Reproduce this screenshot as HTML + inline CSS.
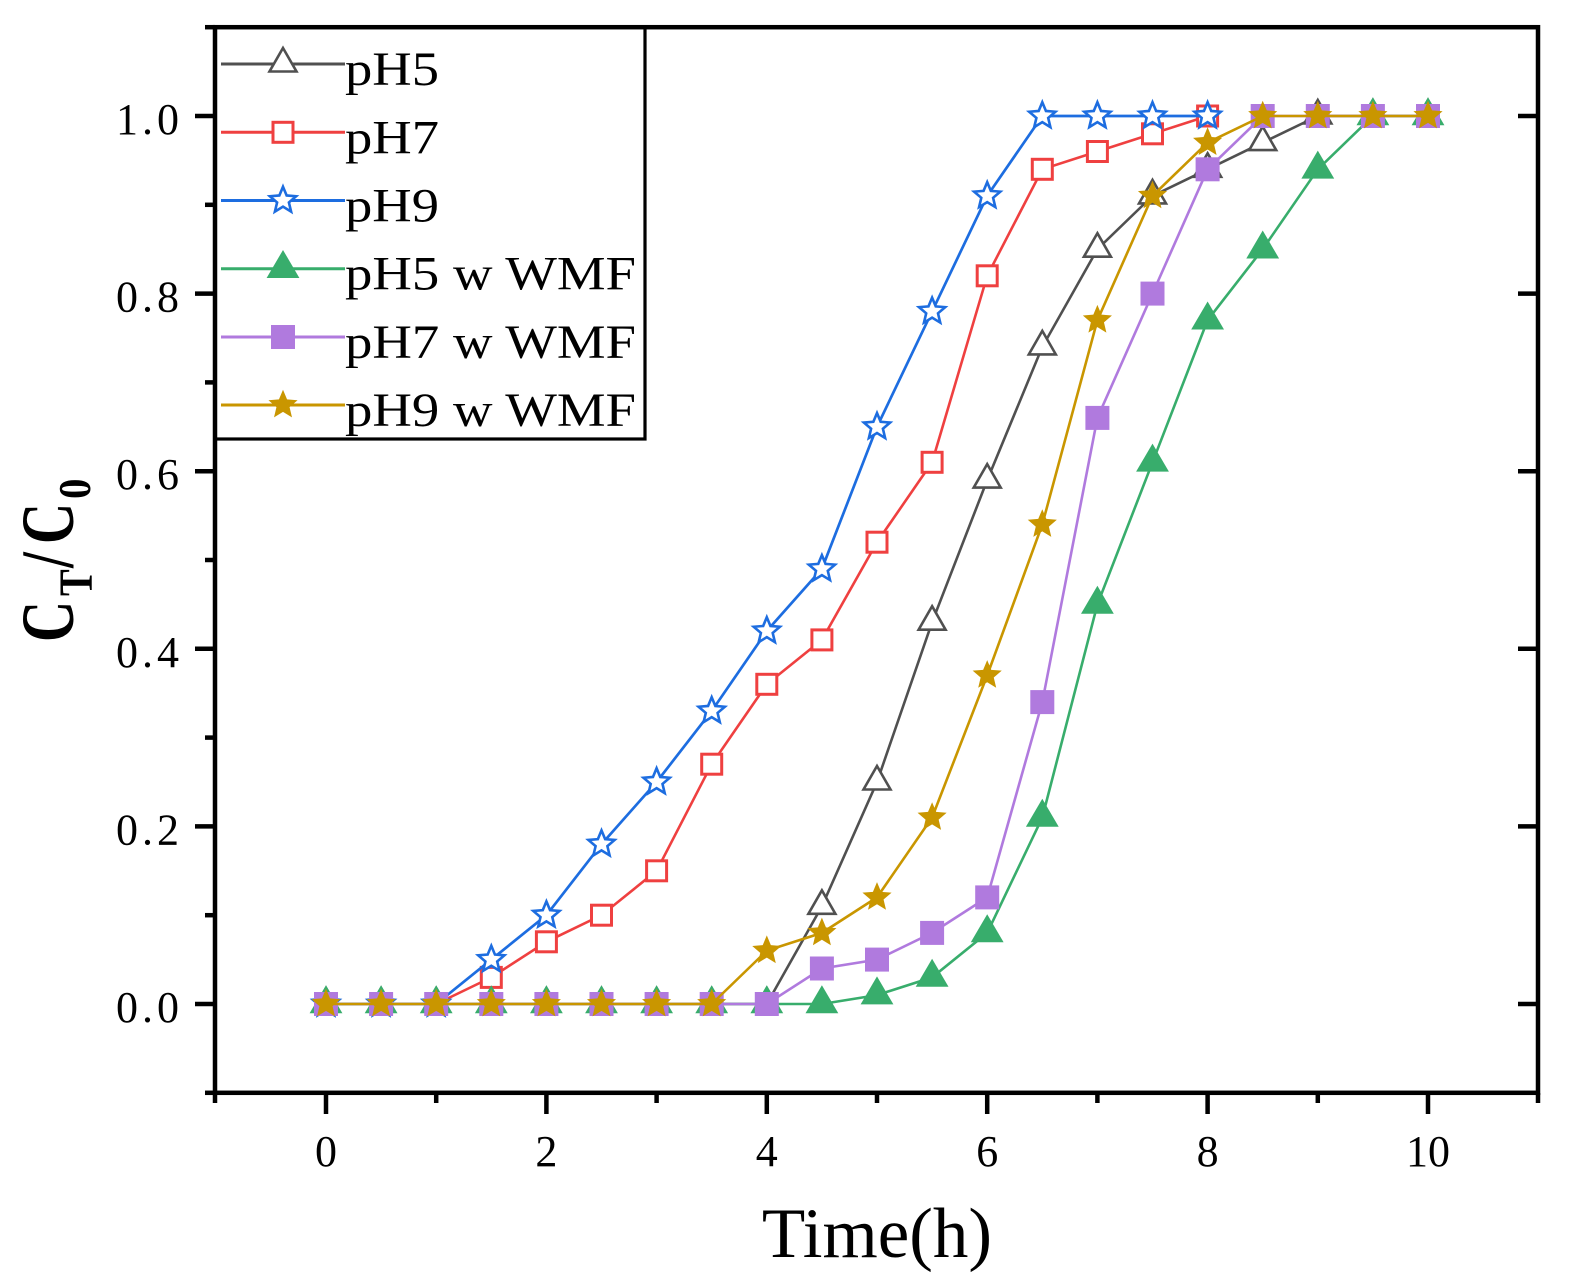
<!DOCTYPE html>
<html><head><meta charset="utf-8"><style>
html,body{margin:0;padding:0;background:#fff;}
svg{display:block;}
text{font-family:"Liberation Serif","Times New Roman",serif;fill:#000;}
</style></head><body>
<svg width="1577" height="1288" viewBox="0 0 1577 1288" xmlns="http://www.w3.org/2000/svg">
<defs>
<path id="trio" d="M0,-16 L13.5,7.5 L-13.5,7.5 Z" fill="#fff" stroke="#505050" stroke-width="2.6"/>
<rect id="sqo" x="-10" y="-10" width="20" height="20" fill="#fff" stroke="#ef4040" stroke-width="3"/>
<polygon id="staro" points="0,-13.8 3.64,-5.02 13.12,-4.26 5.9,1.92 8.11,11.16 0,6.2 -8.11,11.16 -5.9,1.92 -13.12,-4.26 -3.64,-5.02" fill="#fff" stroke="#1d6de0" stroke-width="2.6"/>
<path id="trif" d="M0,-18.7 L16.4,9.3 L-16.4,9.3 Z" fill="#38ad6c"/>
<rect id="sqf" x="-12" y="-12" width="24" height="24" fill="#b07ade"/>
<polygon id="starf" points="0,-15.3 4.06,-5.58 14.55,-4.73 6.56,2.13 8.99,12.38 0,6.9 -8.99,12.38 -6.56,2.13 -14.55,-4.73 -4.06,-5.58" fill="#c99600"/>
</defs>
<rect width="1577" height="1288" fill="#fff"/>

<!-- pH5 -->
<g>
<polyline fill="none" stroke="#505050" stroke-width="2.6" points="326,1004 381.1,1004 436.2,1004 491.3,1004 546.4,1004 601.5,1004 656.6,1004 711.7,1004 766.8,1004 821.9,906.3 877,782 932.1,622.2 987.2,480.1 1042.3,346.9 1097.4,249.2 1152.5,195.9 1207.6,169.3 1262.7,142.6 1317.8,116 1372.9,116 1428,116"/>
<use href="#trio" x="326" y="1004"/><use href="#trio" x="381.1" y="1004"/><use href="#trio" x="436.2" y="1004"/><use href="#trio" x="491.3" y="1004"/><use href="#trio" x="546.4" y="1004"/><use href="#trio" x="601.5" y="1004"/><use href="#trio" x="656.6" y="1004"/><use href="#trio" x="711.7" y="1004"/><use href="#trio" x="766.8" y="1004"/><use href="#trio" x="821.9" y="906.3"/><use href="#trio" x="877" y="782"/><use href="#trio" x="932.1" y="622.2"/><use href="#trio" x="987.2" y="480.1"/><use href="#trio" x="1042.3" y="346.9"/><use href="#trio" x="1097.4" y="249.2"/><use href="#trio" x="1152.5" y="195.9"/><use href="#trio" x="1207.6" y="169.3"/><use href="#trio" x="1262.7" y="142.6"/><use href="#trio" x="1317.8" y="116"/><use href="#trio" x="1372.9" y="116"/><use href="#trio" x="1428" y="116"/>
</g>
<!-- pH7 -->
<g>
<polyline fill="none" stroke="#ef4040" stroke-width="2.6" points="326,1004 381.1,1004 436.2,1004 491.3,977.4 546.4,941.8 601.5,915.2 656.6,870.8 711.7,764.2 766.8,684.3 821.9,639.9 877,542.2 932.1,462.3 987.2,275.8 1042.3,169.3 1097.4,151.5 1152.5,133.8 1207.6,116"/>
<use href="#sqo" x="326" y="1004"/><use href="#sqo" x="381.1" y="1004"/><use href="#sqo" x="436.2" y="1004"/><use href="#sqo" x="491.3" y="977.4"/><use href="#sqo" x="546.4" y="941.8"/><use href="#sqo" x="601.5" y="915.2"/><use href="#sqo" x="656.6" y="870.8"/><use href="#sqo" x="711.7" y="764.2"/><use href="#sqo" x="766.8" y="684.3"/><use href="#sqo" x="821.9" y="639.9"/><use href="#sqo" x="877" y="542.2"/><use href="#sqo" x="932.1" y="462.3"/><use href="#sqo" x="987.2" y="275.8"/><use href="#sqo" x="1042.3" y="169.3"/><use href="#sqo" x="1097.4" y="151.5"/><use href="#sqo" x="1152.5" y="133.8"/><use href="#sqo" x="1207.6" y="116"/>
</g>
<!-- pH9 -->
<g>
<polyline fill="none" stroke="#1d6de0" stroke-width="2.7" points="326,1004 381.1,1004 436.2,1004 491.3,959.6 546.4,915.2 601.5,844.2 656.6,782 711.7,711 766.8,631 821.9,568.9 877,426.8 932.1,311.4 987.2,195.9 1042.3,116 1097.4,116 1152.5,116 1207.6,116"/>
<use href="#staro" x="326" y="1004"/><use href="#staro" x="381.1" y="1004"/><use href="#staro" x="436.2" y="1004"/><use href="#staro" x="491.3" y="959.6"/><use href="#staro" x="546.4" y="915.2"/><use href="#staro" x="601.5" y="844.2"/><use href="#staro" x="656.6" y="782"/><use href="#staro" x="711.7" y="711"/><use href="#staro" x="766.8" y="631"/><use href="#staro" x="821.9" y="568.9"/><use href="#staro" x="877" y="426.8"/><use href="#staro" x="932.1" y="311.4"/><use href="#staro" x="987.2" y="195.9"/><use href="#staro" x="1042.3" y="116"/><use href="#staro" x="1097.4" y="116"/><use href="#staro" x="1152.5" y="116"/><use href="#staro" x="1207.6" y="116"/>
</g>
<!-- pH5 w WMF -->
<g>
<polyline fill="none" stroke="#38ad6c" stroke-width="2.6" points="326,1004 381.1,1004 436.2,1004 491.3,1004 546.4,1004 601.5,1004 656.6,1004 711.7,1004 766.8,1004 821.9,1004 877,995.1 932.1,977.4 987.2,932.9 1042.3,817.5 1097.4,604.4 1152.5,462.3 1207.6,320.2 1262.7,249.2 1317.8,169.3 1372.9,116 1428,116"/>
<use href="#trif" x="326" y="1004"/><use href="#trif" x="381.1" y="1004"/><use href="#trif" x="436.2" y="1004"/><use href="#trif" x="491.3" y="1004"/><use href="#trif" x="546.4" y="1004"/><use href="#trif" x="601.5" y="1004"/><use href="#trif" x="656.6" y="1004"/><use href="#trif" x="711.7" y="1004"/><use href="#trif" x="766.8" y="1004"/><use href="#trif" x="821.9" y="1004"/><use href="#trif" x="877" y="995.1"/><use href="#trif" x="932.1" y="977.4"/><use href="#trif" x="987.2" y="932.9"/><use href="#trif" x="1042.3" y="817.5"/><use href="#trif" x="1097.4" y="604.4"/><use href="#trif" x="1152.5" y="462.3"/><use href="#trif" x="1207.6" y="320.2"/><use href="#trif" x="1262.7" y="249.2"/><use href="#trif" x="1317.8" y="169.3"/><use href="#trif" x="1372.9" y="116"/><use href="#trif" x="1428" y="116"/>
</g>
<!-- pH7 w WMF -->
<g>
<polyline fill="none" stroke="#b07ade" stroke-width="2.6" points="326,1004 381.1,1004 436.2,1004 491.3,1004 546.4,1004 601.5,1004 656.6,1004 711.7,1004 766.8,1004 821.9,968.5 877,959.6 932.1,932.9 987.2,897.4 1042.3,702.1 1097.4,417.9 1152.5,293.6 1207.6,169.3 1262.7,116 1317.8,116 1372.9,116 1428,116"/>
<use href="#sqf" x="326" y="1004"/><use href="#sqf" x="381.1" y="1004"/><use href="#sqf" x="436.2" y="1004"/><use href="#sqf" x="491.3" y="1004"/><use href="#sqf" x="546.4" y="1004"/><use href="#sqf" x="601.5" y="1004"/><use href="#sqf" x="656.6" y="1004"/><use href="#sqf" x="711.7" y="1004"/><use href="#sqf" x="766.8" y="1004"/><use href="#sqf" x="821.9" y="968.5"/><use href="#sqf" x="877" y="959.6"/><use href="#sqf" x="932.1" y="932.9"/><use href="#sqf" x="987.2" y="897.4"/><use href="#sqf" x="1042.3" y="702.1"/><use href="#sqf" x="1097.4" y="417.9"/><use href="#sqf" x="1152.5" y="293.6"/><use href="#sqf" x="1207.6" y="169.3"/><use href="#sqf" x="1262.7" y="116"/><use href="#sqf" x="1317.8" y="116"/><use href="#sqf" x="1372.9" y="116"/><use href="#sqf" x="1428" y="116"/>
</g>
<!-- pH9 w WMF -->
<g>
<polyline fill="none" stroke="#c99600" stroke-width="2.6" points="326,1004 381.1,1004 436.2,1004 491.3,1004 546.4,1004 601.5,1004 656.6,1004 711.7,1004 766.8,950.7 821.9,932.9 877,897.4 932.1,817.5 987.2,675.4 1042.3,524.5 1097.4,320.2 1152.5,195.9 1207.6,142.6 1262.7,116 1317.8,116 1372.9,116 1428,116"/>
<use href="#starf" x="326" y="1004"/><use href="#starf" x="381.1" y="1004"/><use href="#starf" x="436.2" y="1004"/><use href="#starf" x="491.3" y="1004"/><use href="#starf" x="546.4" y="1004"/><use href="#starf" x="601.5" y="1004"/><use href="#starf" x="656.6" y="1004"/><use href="#starf" x="711.7" y="1004"/><use href="#starf" x="766.8" y="950.7"/><use href="#starf" x="821.9" y="932.9"/><use href="#starf" x="877" y="897.4"/><use href="#starf" x="932.1" y="817.5"/><use href="#starf" x="987.2" y="675.4"/><use href="#starf" x="1042.3" y="524.5"/><use href="#starf" x="1097.4" y="320.2"/><use href="#starf" x="1152.5" y="195.9"/><use href="#starf" x="1207.6" y="142.6"/><use href="#starf" x="1262.7" y="116"/><use href="#starf" x="1317.8" y="116"/><use href="#starf" x="1372.9" y="116"/><use href="#starf" x="1428" y="116"/>
</g>

<!-- Legend -->
<rect x="215" y="27.2" width="430" height="411.8" fill="#fff" stroke="#000" stroke-width="3.2"/>
<g>
<line x1="221" y1="64" x2="345" y2="64" stroke="#505050" stroke-width="3"/>
<use href="#trio" x="283" y="64"/>
<line x1="221" y1="132.3" x2="345" y2="132.3" stroke="#ef4040" stroke-width="3"/>
<use href="#sqo" x="283" y="132.3"/>
<line x1="221" y1="200.5" x2="345" y2="200.5" stroke="#1d6de0" stroke-width="3"/>
<use href="#staro" x="283" y="200.5"/>
<line x1="221" y1="268.7" x2="345" y2="268.7" stroke="#38ad6c" stroke-width="3"/>
<use href="#trif" x="283" y="268.7"/>
<line x1="221" y1="337" x2="345" y2="337" stroke="#b07ade" stroke-width="3"/>
<use href="#sqf" x="283" y="337"/>
<line x1="221" y1="405" x2="345" y2="405" stroke="#c99600" stroke-width="3"/>
<use href="#starf" x="283" y="405"/>
</g>
<g font-size="48">
<text x="345" y="85" textLength="94" lengthAdjust="spacingAndGlyphs">pH5</text>
<text x="345" y="153.3" textLength="94" lengthAdjust="spacingAndGlyphs">pH7</text>
<text x="345" y="221.5" textLength="94" lengthAdjust="spacingAndGlyphs">pH9</text>
<text x="345" y="289.7" textLength="291" lengthAdjust="spacingAndGlyphs">pH5 w WMF</text>
<text x="345" y="358" textLength="291" lengthAdjust="spacingAndGlyphs">pH7 w WMF</text>
<text x="345" y="426" textLength="291" lengthAdjust="spacingAndGlyphs">pH9 w WMF</text>
</g>

<!-- Frame -->
<rect x="215" y="27.2" width="1323" height="1065.6" fill="none" stroke="#000" stroke-width="4.5"/>
<g stroke="#000" stroke-width="4.5">
<line x1="195" y1="1004" x2="215" y2="1004"/>
<line x1="195" y1="826.4" x2="215" y2="826.4"/>
<line x1="195" y1="648.8" x2="215" y2="648.8"/>
<line x1="195" y1="471.2" x2="215" y2="471.2"/>
<line x1="195" y1="293.6" x2="215" y2="293.6"/>
<line x1="195" y1="116" x2="215" y2="116"/>
<line x1="205" y1="1092.8" x2="215" y2="1092.8"/>
<line x1="205" y1="915.2" x2="215" y2="915.2"/>
<line x1="205" y1="737.6" x2="215" y2="737.6"/>
<line x1="205" y1="560" x2="215" y2="560"/>
<line x1="205" y1="382.4" x2="215" y2="382.4"/>
<line x1="205" y1="204.8" x2="215" y2="204.8"/>
<line x1="205" y1="27.2" x2="215" y2="27.2"/>
<line x1="1518" y1="1004" x2="1538" y2="1004"/>
<line x1="1518" y1="826.4" x2="1538" y2="826.4"/>
<line x1="1518" y1="648.8" x2="1538" y2="648.8"/>
<line x1="1518" y1="471.2" x2="1538" y2="471.2"/>
<line x1="1518" y1="293.6" x2="1538" y2="293.6"/>
<line x1="1518" y1="116" x2="1538" y2="116"/>
<line x1="326" y1="1093" x2="326" y2="1114"/>
<line x1="546.4" y1="1093" x2="546.4" y2="1114"/>
<line x1="766.8" y1="1093" x2="766.8" y2="1114"/>
<line x1="987.2" y1="1093" x2="987.2" y2="1114"/>
<line x1="1207.6" y1="1093" x2="1207.6" y2="1114"/>
<line x1="1428" y1="1093" x2="1428" y2="1114"/>
<line x1="215" y1="1093" x2="215" y2="1103"/>
<line x1="436.2" y1="1093" x2="436.2" y2="1103"/>
<line x1="656.6" y1="1093" x2="656.6" y2="1103"/>
<line x1="877" y1="1093" x2="877" y2="1103"/>
<line x1="1097.4" y1="1093" x2="1097.4" y2="1103"/>
<line x1="1317.8" y1="1093" x2="1317.8" y2="1103"/>
<line x1="1538" y1="1093" x2="1538" y2="1103"/>
</g>

<!-- Y tick labels -->
<g font-size="44" text-anchor="end">
<text x="179" y="1022" textLength="63" lengthAdjust="spacing">0.0</text>
<text x="179" y="844.4" textLength="63" lengthAdjust="spacing">0.2</text>
<text x="179" y="666.8" textLength="63" lengthAdjust="spacing">0.4</text>
<text x="179" y="489.2" textLength="63" lengthAdjust="spacing">0.6</text>
<text x="179" y="311.6" textLength="63" lengthAdjust="spacing">0.8</text>
<text x="179" y="134" textLength="63" lengthAdjust="spacing">1.0</text>
</g>
<!-- X tick labels -->
<g font-size="44" text-anchor="middle">
<text x="326" y="1166">0</text>
<text x="546.4" y="1166">2</text>
<text x="766.8" y="1166">4</text>
<text x="987.2" y="1166">6</text>
<text x="1207.6" y="1166">8</text>
<text x="1428" y="1166">10</text>
</g>

<!-- Axis titles -->
<text x="877" y="1257" font-size="71" text-anchor="middle">Time(h)</text>
<g font-weight="bold">
<text transform="translate(73,642) rotate(-90) scale(1,1.32)" font-size="57">C</text>
<text transform="translate(92,596) rotate(-90) scale(1,1.2)" font-size="40">T</text>
<text transform="translate(73,568) rotate(-90) scale(1,1.32)" font-size="57">/</text>
<text transform="translate(73,544) rotate(-90) scale(1,1.32)" font-size="57">C</text>
<text transform="translate(90,499) rotate(-90) scale(1,1.12)" font-size="41">0</text>
</g>
</svg>
</body></html>
